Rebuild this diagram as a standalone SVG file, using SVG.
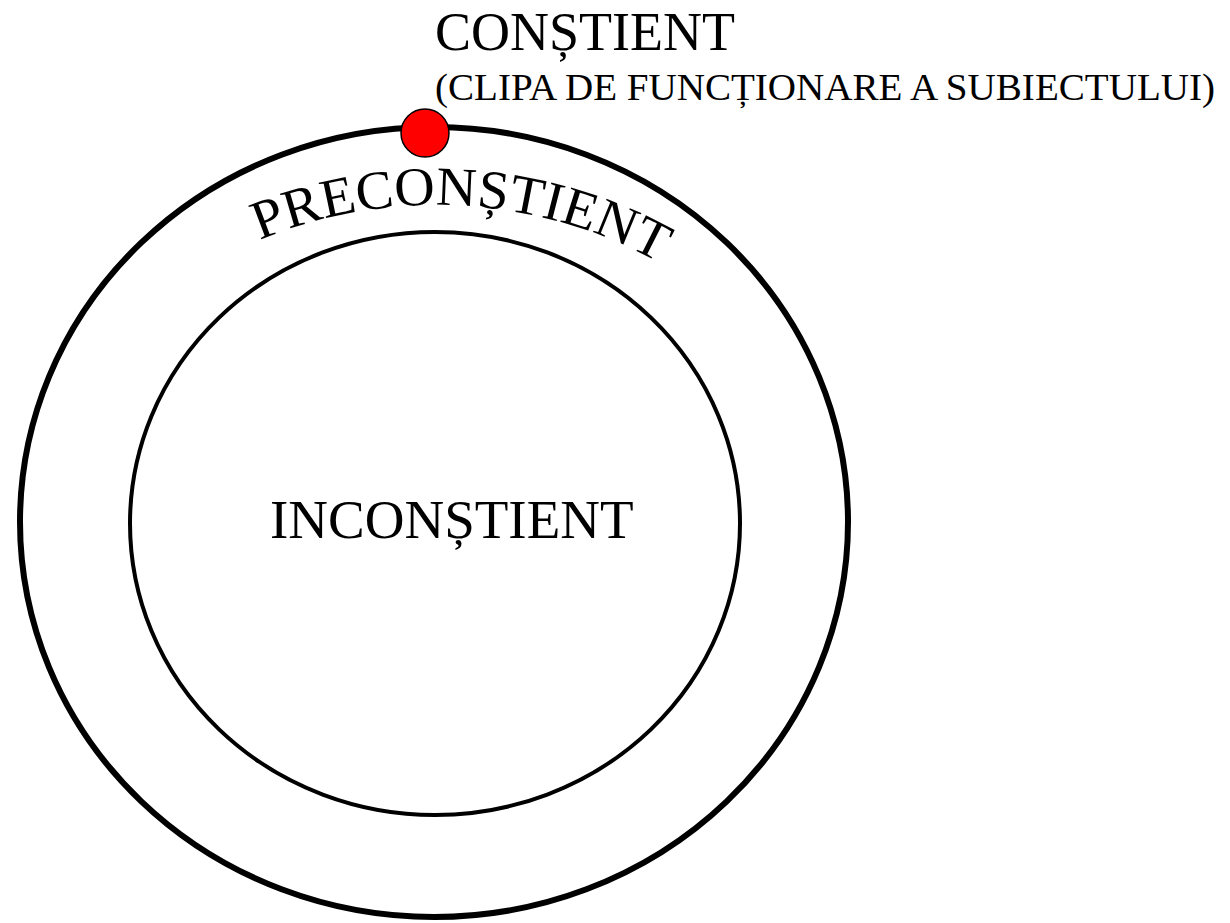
<svg xmlns="http://www.w3.org/2000/svg" width="1230" height="923" viewBox="0 0 1230 923">
<defs>
<style>
.t{font-family:"Liberation Serif","Times New Roman",serif;fill:#000}
.ring{fill:none;stroke:#000}
</style>
<path id="arc" d="M140.3,312.6 A460,460 0 0 1 731.7,312.6"/>
</defs>
<rect width="1230" height="923" fill="#fff"/>
<g id="preconstient">
<ellipse class="ring" cx="434" cy="522" rx="414" ry="395" stroke-width="6"/>
<text class="t" font-size="55"><textPath href="#arc" startOffset="140" textLength="414" lengthAdjust="spacingAndGlyphs">PRECONȘTIENT</textPath></text>
</g>
<g id="inconstient">
<ellipse class="ring" cx="435" cy="523.5" rx="305" ry="291.5" stroke-width="4"/>
<text class="t" x="270" y="538" font-size="55">INCONȘTIENT</text>
</g>
<g id="constient">
<circle cx="425" cy="133" r="24" fill="#f00" stroke="#000" stroke-width="1.5"/>
<text class="t" x="435" y="50" font-size="54">CONȘTIENT</text>
<text class="t" x="435" y="100" font-size="38" textLength="780" lengthAdjust="spacingAndGlyphs">(CLIPA DE FUNCȚIONARE A SUBIECTULUI)</text>
</g>
</svg>
